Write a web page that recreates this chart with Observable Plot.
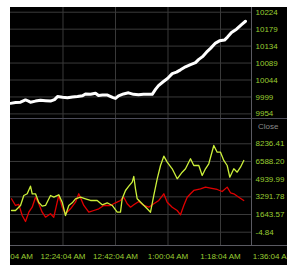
<!DOCTYPE html>
<html><head><meta charset="utf-8">
<script src="https://cdn.jsdelivr.net/npm/d3@7"></script>
<script src="https://cdn.jsdelivr.net/npm/@observablehq/plot@0.6"></script>
<style>
body{margin:0;background:#fff;}
#chart{position:absolute;left:10px;top:7px;width:277px;height:258px;background:#000;overflow:hidden;}
#chart svg{display:block;overflow:hidden;background:#000;}
#sep{height:1px;background:#4b4b58;}
</style></head><body><div id="chart"></div>
<script>
// ---- data (times = minutes after midnight) ----
const topTimes = [6.07,7.78,9.50,11.21,12.24,12.92,14.64,16.35,18.07,19.78,21.15,22.18,23.89,25.61,27.32,29.04,30.75,31.78,33.50,35.21,36.24,37.61,39.32,41.04,42.06,43.10,44.81,46.52,48.24,49.95,51.67,53.38,54.65,55.78,56.81,58.52,59.90,61.51,62.98,64.35,66.07,67.78,69.50,70.53,71.90,73.27,74.64,76.35,77.72,79.44,80.47,81.84,83.55,85.27,86.64];
const topClose = [9982,9984,9985,9991,9988,9985,9988,9990,9989,9988,9992,10000,9998,9997,9999,10000,10002,10007,10006,10009,10003,10004,10004,9998,9995,10002,10007,10010,10006,10005,10006,10006,10006,10019,10029,10040,10048,10061,10065,10071,10079,10085,10090,10098,10106,10118,10128,10142,10148,10150,10158,10170,10179,10191,10200];

const greenTimes = [6.41,7.78,9.50,10.63,11.79,12.92,13.51,14.64,15.77,16.93,18.07,19.78,20.91,22.63,23.79,24.92,26.05,27.22,28.35,30.07,31.78,33.50,35.79,37.51,39.22,40.94,42.65,43.78,44.36,45.50,46.63,47.79,48.34,48.92,49.51,51.22,52.94,54.07,55.20,56.37,57.50,58.63,59.79,61.51,63.22,64.94,66.07,67.78,68.91,70.63,71.79,72.92,74.05,75.77,76.93,78.07,79.20,80.36,81.25,82.63,83.79,84.92,86.05];
const greenClose = [2018,2018,2485,3417,3575,4284,3575,3575,2764,2420,2485,3417,3258,3482,2792,1552,2485,2736,3109,3258,3109,2951,2951,2550,2736,2485,1860,1860,3109,3883,4284,4657,5188,4041,3109,2643,2177,1860,3417,4974,6213,7080,6521,5906,4974,5589,5906,6838,6213,6213,5281,5906,6372,8078,7453,7453,6680,6213,5123,5906,5589,6055,6680];

const redTimes = [6.41,7.78,8.91,10.08,11.21,12.34,13.51,14.64,15.77,16.93,18.07,19.78,20.91,22.08,22.63,23.79,24.92,26.64,28.35,29.48,31.20,32.91,34.63,36.34,38.05,40.35,42.06,43.78,44.91,46.08,47.21,48.34,50.06,51.77,53.48,55.20,56.91,58.63,59.79,61.51,63.22,64.35,65.48,66.65,67.78,68.91,71.21,72.92,74.64,76.93,78.65,80.36,81.50,82.63,84.34,86.05];
const redClose = [3109,2485,2578,1552,993,1860,2326,3258,2643,1860,1394,1711,1394,2792,3417,2326,1711,2177,2792,3575,2485,1860,2018,2177,2485,2485,2736,2951,3258,2643,2326,2550,2858,2485,2326,2643,2951,3575,2792,2326,2018,1617,2485,3258,3575,3883,4041,4196,4097,3977,3790,4196,3669,3575,3258,2951];

const topTicks = [9954,9999,10044,10089,10134,10179,10224];
const bottomTicks = [-4.84,1643.57,3291.78,4939.99,6588.20,8236.41];
const bottomTickLabels = ["-4.84","1643.57","3291.78","4939.99","6588.20","8236.41"];
const xTickMinutes = [6+4/60,24+4/60,42+4/60,60+4/60,78+4/60,96+4/60];
const xTickLabels = ["12:06:04 AM","12:24:04 AM","12:42:04 AM","1:00:04 AM","1:18:04 AM","1:36:04 AM"];

// ---- helpers ----
const toDate = m => new Date(Date.UTC(2000,0,1) + Math.round(m*60000));
const tStart = toDate(6+4/60);
const tAxis = toDate(88.70);
const tEnd = toDate(101.04);
const xTickDates = xTickMinutes.map(toDate);
const gridDates = xTickDates.filter(d => d > tStart && d < tAxis);
const xLabelMap = new Map(xTickDates.map((d,i)=>[+d, xTickLabels[i]]));
const topData = topTimes.map((m,i)=>({t:toDate(m), v:topClose[i]}));
const greenData = greenTimes.map((m,i)=>({t:toDate(m), v:greenClose[i]}));
const redData = redTimes.map((m,i)=>({t:toDate(m), v:redClose[i]}));

const FONT = "'Liberation Sans', Arial, sans-serif";
const GRID = "#3a3a3a", AXIS = "#5a5a62", LABEL = "#9acd32";

const topPlot = Plot.plot({
  width:277, height:111, marginTop:0, marginBottom:0, marginLeft:0, marginRight:0,
  style:{background:"#000", overflow:"hidden", fontFamily:FONT, fontSize:"8px"},
  x:{type:"utc", domain:[tStart,tEnd], axis:null},
  y:{domain:[9941.8,10236.5], axis:null},
  marks:[
    Plot.ruleY(topTicks,{x1:()=>tStart, x2:()=>tAxis, stroke:GRID}),
    Plot.ruleX(gridDates,{stroke:GRID}),
    Plot.ruleX([tAxis],{stroke:AXIS}),
    Plot.text(topTicks,{x:()=>tAxis, y:d=>d, text:d=>String(d), dx:4, textAnchor:"start", fill:LABEL}),
    Plot.line(topData,{x:"t", y:"v", stroke:"#fff", strokeWidth:3})
  ]
});

const yBottomDomain = [-1245,10500];
const bottomPlot = Plot.plot({
  width:277, height:146, marginTop:0, marginBottom:20, marginLeft:0, marginRight:0,
  style:{background:"#000", overflow:"hidden", fontFamily:FONT, fontSize:"8px", color:LABEL},
  x:{type:"utc", domain:[tStart,tEnd], ticks:xTickDates, tickFormat:d=>xLabelMap.get(+d), tickSize:0, tickPadding:8, label:null},
  y:{domain:yBottomDomain, axis:null},
  marks:[
    Plot.ruleY(bottomTicks,{x1:()=>tStart, x2:()=>tAxis, stroke:GRID}),
    Plot.ruleX(gridDates,{stroke:GRID}),
    Plot.ruleX([tAxis],{stroke:AXIS}),
    Plot.ruleY([yBottomDomain[0]],{stroke:AXIS}),
    Plot.text(bottomTicks,{x:()=>tAxis, y:d=>d, text:(d,i)=>bottomTickLabels[i], dx:4, textAnchor:"start", fill:LABEL}),
    Plot.text(["Close"],{frameAnchor:"top-right", dx:-9, dy:4, textAnchor:"end", fill:"#8a8a8a"}),
    Plot.line(redData,{x:"t", y:"v", stroke:"#e00000", strokeWidth:1.3}),
    Plot.line(greenData,{x:"t", y:"v", stroke:"#ccf03a", strokeWidth:1.3})
  ]
});

const chart = document.getElementById("chart");
chart.appendChild(topPlot);
const sep = document.createElement("div"); sep.id = "sep"; chart.appendChild(sep);
chart.appendChild(bottomPlot);
</script></body></html>
